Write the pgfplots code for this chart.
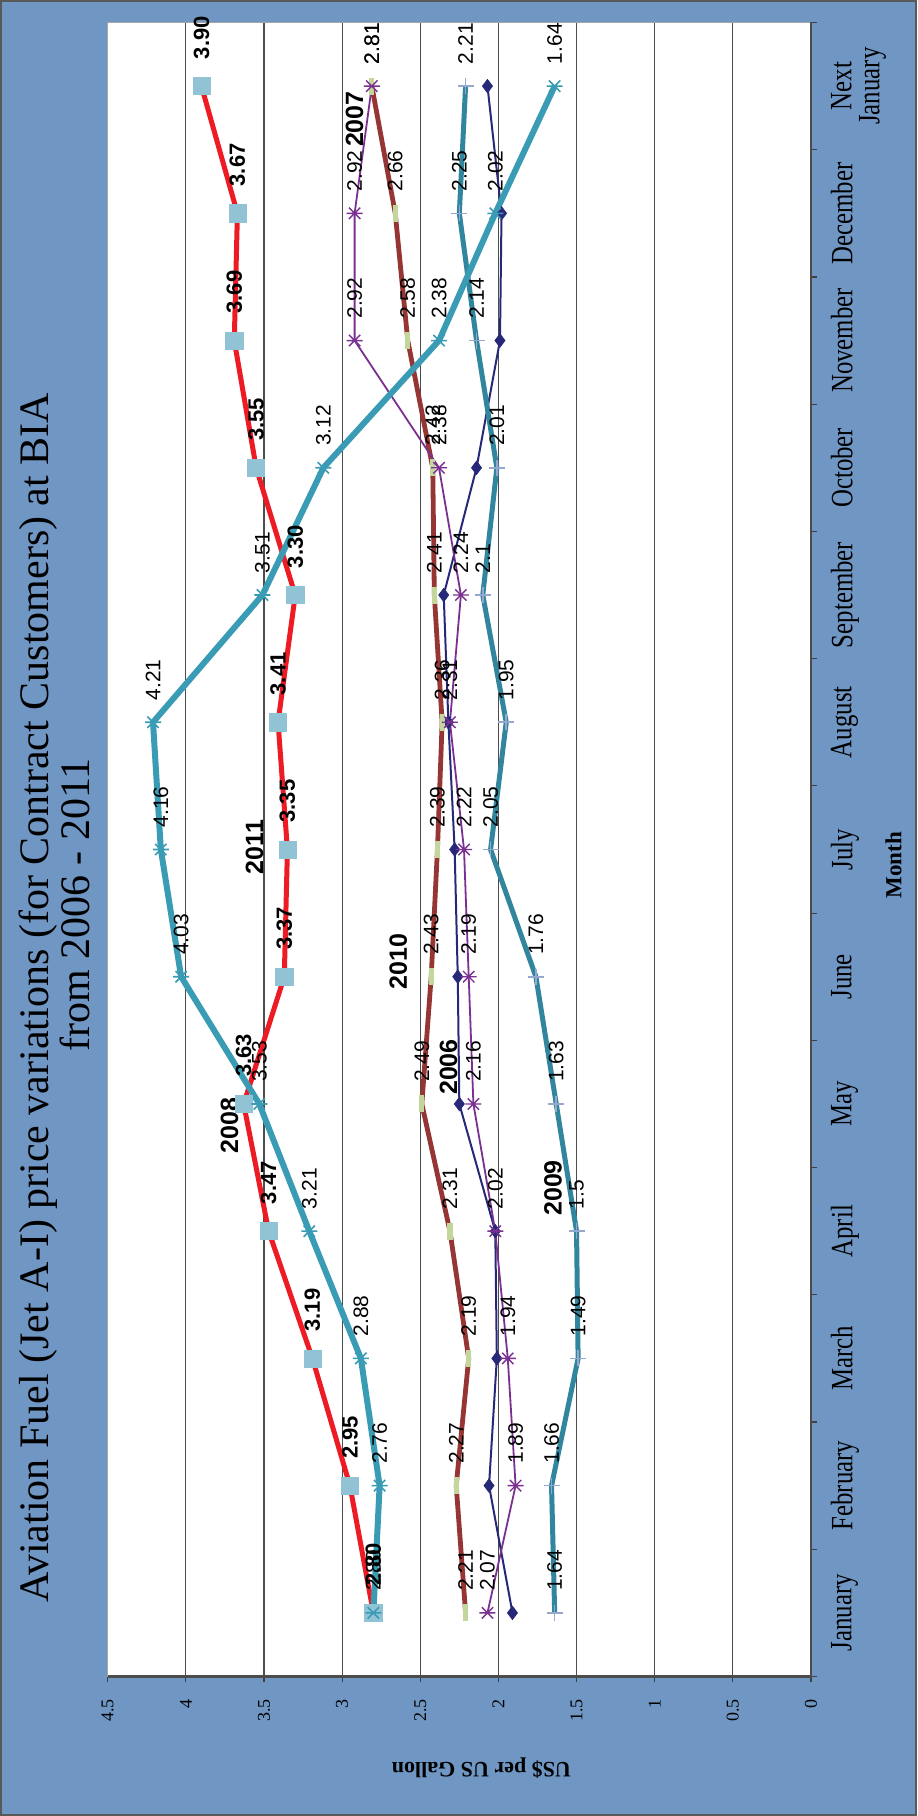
\documentclass[border=0pt]{standalone}
\usepackage{fontspec}
\setmainfont{Liberation Serif}
\newfontfamily\lsans{Liberation Sans}
\newfontfamily\cserif[FakeStretch=0.8]{Liberation Serif}
\usepackage{pgfplots}
\pgfplotsset{compat=1.18}
\usepackage{pgfplotstable}

\definecolor{bgblue}{RGB}{112,150,196}
\definecolor{redline}{RGB}{237,28,36}
\definecolor{sqfill}{RGB}{146,195,213}
\definecolor{tealA}{RGB}{58,156,180}
\definecolor{tealB}{RGB}{49,134,157}
\definecolor{plusc}{RGB}{150,168,208}
\definecolor{brownc}{RGB}{150,54,52}
\definecolor{greenm}{RGB}{196,215,155}
\definecolor{purplec}{RGB}{122,48,145}
\definecolor{navyc}{RGB}{40,40,120}

% star marker: diagonal cross with a horizontal stroke
\pgfdeclareplotmark{starx}{%
  \pgfpathmoveto{\pgfqpoint{-\pgfplotmarksize}{0pt}}%
  \pgfpathlineto{\pgfqpoint{\pgfplotmarksize}{0pt}}%
  \pgfpathmoveto{\pgfqpoint{-.7071\pgfplotmarksize}{-.7071\pgfplotmarksize}}%
  \pgfpathlineto{\pgfqpoint{.7071\pgfplotmarksize}{.7071\pgfplotmarksize}}%
  \pgfpathmoveto{\pgfqpoint{-.7071\pgfplotmarksize}{.7071\pgfplotmarksize}}%
  \pgfpathlineto{\pgfqpoint{.7071\pgfplotmarksize}{-.7071\pgfplotmarksize}}%
  \pgfusepathqstroke}
% dash marker: narrow filled bar
\pgfdeclareplotmark{vbar}{%
  \pgfpathrectangle{\pgfqpoint{-.3\pgfplotmarksize}{-\pgfplotmarksize}}{\pgfqpoint{.6\pgfplotmarksize}{2\pgfplotmarksize}}%
  \pgfusepathqfill}

% month index (0 = January ... 12 = next January), price in US$ per gallon
\pgfplotstableread{
m v
0 1.91
1 2.06
2 2.01
3 2.02
4 2.25
5 2.26
6 2.28
7 2.32
8 2.35
9 2.14
10 1.99
11 1.98
12 2.07
}\tabSix
\pgfplotstableread{
m v
0 2.21
1 2.27
2 2.19
3 2.31
4 2.49
5 2.43
6 2.39
7 2.36
8 2.41
9 2.42
10 2.58
11 2.66
12 2.81
}\tabSeven
\pgfplotstableread{
m v
0 2.80
1 2.76
2 2.88
3 3.21
4 3.53
5 4.03
6 4.16
7 4.21
8 3.51
9 3.12
10 2.38
11 2.02
12 1.64
}\tabEight
\pgfplotstableread{
m v
0 1.64
1 1.66
2 1.49
3 1.5
4 1.63
5 1.76
6 2.05
7 1.95
8 2.1
9 2.01
10 2.14
11 2.25
12 2.21
}\tabNine
\pgfplotstableread{
m v
0 2.07
1 1.89
2 1.94
3 2.02
4 2.16
5 2.19
6 2.22
7 2.31
8 2.24
9 2.38
10 2.92
11 2.92
12 2.81
}\tabTen
\pgfplotstableread{
m v
0 2.80
1 2.95
2 3.19
3 3.47
4 3.63
5 3.37
6 3.35
7 3.41
8 3.30
9 3.55
10 3.69
11 3.67
12 3.90
}\tabEleven

\begin{document}
\begin{tikzpicture}[x=1pt,y=1pt]
\fill[bgblue] (0,0) rectangle (458.5,908);
\draw[black!65, line width=1pt] (0.5,0.5) rectangle (458,907.5);
\useasboundingbox (0,0) rectangle (458.5,908);

\node[rotate=90, inner sep=0pt, font=\fontsize{21}{24}\selectfont] at (19,409)
  {Aviation Fuel (Jet A-I) price variations (for Contract Customers) at BIA};
\node[rotate=90, inner sep=0pt, font=\fontsize{21}{24}\selectfont] at (37.6,455.5)
  {from 2006 - 2011};
\node[rotate=180, inner sep=0pt, font=\bfseries\fontsize{11}{13}\selectfont] at (240.7,23.8)
  {US\$ per US Gallon};
\node[rotate=90, inner sep=0pt, font=\bfseries\fontsize{11.5}{14}\selectfont] at (446.8,475.5)
  {Month};

\begin{axis}[
  at={(53.85pt,69.75pt)}, anchor=south west,
  scale only axis, width=351.65pt, height=827pt,
  xmin=0, xmax=4.5, ymin=-0.5, ymax=12.5,
  x dir=reverse,
  clip=false,
  axis background/.style={fill=white},
  axis line style={draw=black!35, line width=0.8pt},
  xtick={0,0.5,...,4.5},
  xticklabels={0,0.5,1,1.5,2,2.5,3,3.5,4,4.5},
  xtick pos=left, xticklabel pos=left,
  xmajorgrids,
  major grid style={draw=black!70, line width=0.55pt},
  tick align=outside,
  major tick length=3pt,
  tick style={draw=black!75, line width=0.6pt},
  xticklabel style={rotate=90, anchor=east, inner sep=0pt, outer xsep=8.5pt,
    font=\fontsize{9}{10}\selectfont},
  ytick={-0.5,0.5,...,12.5},
  yticklabel={\mbox{}},
  ytick pos=right, yticklabel pos=right,
  extra y ticks={0,1,2,3,4,5,6,7,8,9,10,11,12},
  extra y tick labels={January,February,March,April,May,June,July,August,September,October,November,December,{Next\\January}},
  extra y tick style={major tick length=0pt, tick style={draw=none},
    yticklabel style={rotate=90, anchor=north, align=center, inner sep=0pt, outer ysep=10pt,
      font=\cserif\fontsize{15.5}{14}\selectfont}},
  every node near coord/.append style={rotate=90, anchor=west, inner sep=0pt, outer xsep=11pt,
    font=\lsans\fontsize{10.5}{12}\selectfont, text=black},
  point meta=explicit symbolic,
]
% 2006
\addplot[navyc, line width=1pt, mark=diamond*, mark size=3.4pt,
  mark options={solid, draw=navyc, fill=navyc, line width=0.3pt}]
  table[x=v, y=m] {\tabSix};
% 2007
\addplot[brownc, line width=2.4pt, mark=vbar, mark size=4.25pt,
  mark options={solid, fill=greenm, draw=none},
  nodes near coords={\pgfplotspointmeta}]
  table[x=v, y=m, meta=v] {\tabSeven};
% 2010
\addplot[purplec, line width=0.9pt, mark=starx, mark size=4pt,
  mark options={solid, draw=purplec, line width=0.7pt},
  nodes near coords={\pgfplotspointmeta}]
  table[x=v, y=m, meta=v] {\tabTen};
% 2011
\addplot[redline, line width=2.5pt, mark=square*, mark size=4.3pt,
  mark options={solid, draw=sqfill, fill=sqfill, line width=0.3pt},
  nodes near coords={\pgfplotspointmeta},
  every node near coord/.append style={outer xsep=13.5pt, font=\lsans\bfseries\fontsize{11}{12}\selectfont}]
  table[x=v, y=m, meta=v] {\tabEleven};
% 2009
\addplot[tealB, line width=2.5pt, mark=+, mark size=4pt,
  mark options={solid, draw=plusc, line width=0.8pt},
  nodes near coords={\pgfplotspointmeta}]
  table[x=v, y=m, meta=v] {\tabNine};
% 2008
\addplot[tealA, line width=3pt, mark=starx, mark size=4pt,
  mark options={solid, draw=tealA, line width=0.8pt},
  nodes near coords={\pgfplotspointmeta}]
  table[x=v, y=m, meta=v] {\tabEight};

% series names
\begin{scope}[every node/.style={rotate=90, inner sep=0pt, font=\lsans\bfseries\fontsize{12.5}{14}\selectfont}]
\node at (axis cs:3.56,6.02) {2011};
\node at (axis cs:3.72,3.83) {2008};
\node at (axis cs:2.64,5.12) {2010};
\node at (axis cs:2.32,4.29) {2006};
\node at (axis cs:1.65,3.34) {2009};
\node at (axis cs:2.92,11.74) {2007};
\end{scope}

% darker bottom and right axis lines
\draw[black!70, line width=1.1pt] (axis cs:4.5,-0.5) -- (axis cs:0,-0.5) -- (axis cs:0,12.5);
\end{axis}
\end{tikzpicture}
\end{document}
